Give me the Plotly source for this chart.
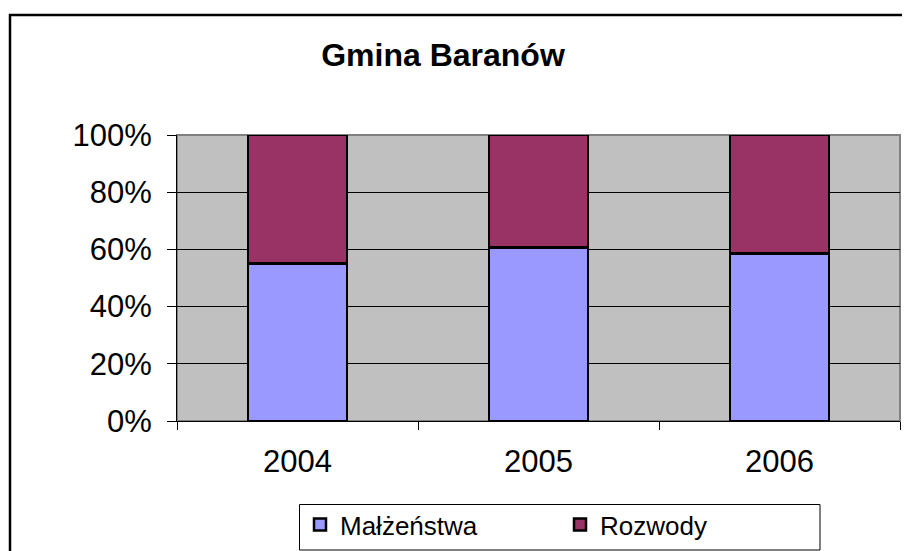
import plotly.graph_objects as go

years = ["2004", "2005", "2006"]
malzenstwa = [55.1, 60.7, 58.6]
rozwody = [44.9, 39.3, 41.4]
y_ticks = [0, 20, 40, 60, 80, 100]

OFF = 8  # page body margin
W, H = 910 - OFF, 551 - OFF
# target page-pixel plot box: left 177, right 900, top 135, bottom 421
L, T = 177 - OFF, 135 - OFF
R = W - (900 - OFF)
B = H - (421 - OFF)
pw, ph = W - L - R, H - T - B

def px(x):
    return (x - OFF - L) / pw

def py(y):
    return (H - B - (y - OFF)) / ph

pos = list(range(len(years)))
FONT = "Liberation Sans, Arial, sans-serif"

fig = go.Figure()
fig.add_trace(go.Bar(x=pos, y=malzenstwa, name="Małżeństwa",
                     marker=dict(color="#9999FF", line=dict(color="#000000", width=2.5))))
fig.add_trace(go.Bar(x=pos, y=rozwody, name="Rozwody",
                     marker=dict(color="#993366", line=dict(color="#000000", width=2.5))))

fig.update_layout(
    width=W, height=H,
    margin=dict(l=L, r=R, t=T, b=B, autoexpand=False),
    barmode="stack", bargap=0.59,
    paper_bgcolor="white", plot_bgcolor="#C0C0C0",
    font=dict(family=FONT, color="#000000", size=31),
    title=dict(text="<b>Gmina Baranów</b>", font=dict(size=32, family=FONT),
               x=px(443), xref="paper", xanchor="center",
               y=1 - (55 - OFF) / H, yref="container", yanchor="middle"),
    showlegend=True,
    legend=dict(orientation="h", x=px(300), xanchor="left", y=py(501), yanchor="top",
                borderwidth=0, bgcolor="rgba(0,0,0,0)",
                font=dict(size=26, family=FONT),
                entrywidth=215, entrywidthmode="pixels", traceorder="normal"),
    xaxis=dict(range=[-0.5, len(years) - 0.5], tickvals=pos, ticktext=years,
               ticks="", showgrid=False, zeroline=False,
               showline=True, linecolor="#000000", linewidth=1,
               ticklabelstandoff=13,
               minor=dict(tickvals=[p - 0.5 for p in pos] + [len(years) - 0.5],
                          ticks="outside", ticklen=8, tickcolor="#000000", tickwidth=1,
                          showgrid=False)),
    yaxis=dict(range=[0, 100], tickvals=y_ticks, ticktext=[f"{v}%" for v in y_ticks],
               ticks="outside", ticklen=9, tickcolor="#000000", tickwidth=1,
               showgrid=True, gridcolor="#000000", gridwidth=1, zeroline=False,
               showline=True, linecolor="#000000", linewidth=1,
               ticklabelstandoff=9),
    shapes=[
        dict(type="rect", xref="paper", yref="paper", x0=0, x1=1, y0=0, y1=1,
             line=dict(color="#808080", width=2), layer="below"),
        # legend frame
        dict(type="rect", xref="paper", yref="paper", x0=px(299.5), x1=px(820),
             y0=py(504.5), y1=py(550), line=dict(color="#000000", width=1),
             fillcolor="rgba(0,0,0,0)", layer="above"),
        # outer chart frame
        dict(type="rect", xref="paper", yref="paper", x0=px(10), x1=px(940),
             y0=py(15), y1=py(580), line=dict(color="#000000", width=2.5),
             fillcolor="rgba(0,0,0,0)", layer="above"),
    ],
)

fig.write_html("out.html")
